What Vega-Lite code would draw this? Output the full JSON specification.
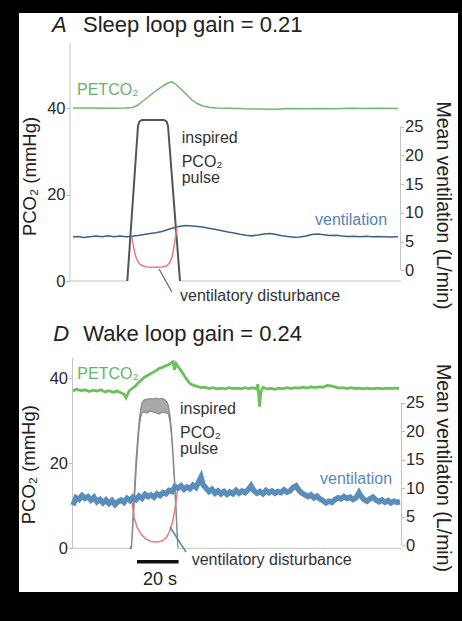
{
  "$schema": "https://vega.github.io/schema/vega-lite/v6.json",
  "background": "black",
  "padding": {"left": 19, "top": 13, "right": 4, "bottom": 29},
  "spacing": 0,
  "config": {"font": "Liberation Sans", "view": {"fill": "white", "stroke": null}},
  "datasets": {
    "aPet": [{"t":1.44,"v":40.0},{"t":9.62,"v":40.0},{"t":19.23,"v":39.93},{"t":26.44,"v":40.0},{"t":30.29,"v":40.12},{"t":32.69,"v":40.69},{"t":35.1,"v":41.62},{"t":38.46,"v":42.89},{"t":41.83,"v":44.16},{"t":44.71,"v":45.09},{"t":47.12,"v":45.78},{"t":48.89,"v":46.08},{"t":50.48,"v":45.66},{"t":53.85,"v":44.16},{"t":56.25,"v":43.01},{"t":58.65,"v":41.85},{"t":61.06,"v":41.04},{"t":63.94,"v":40.46},{"t":67.31,"v":40.12},{"t":70.67,"v":40.0},{"t":76.92,"v":39.93},{"t":84.13,"v":39.81},{"t":91.35,"v":39.77},{"t":98.56,"v":39.72},{"t":105.77,"v":39.88},{"t":112.98,"v":39.81},{"t":120.19,"v":39.88},{"t":127.4,"v":39.84},{"t":134.62,"v":39.93},{"t":141.83,"v":39.86},{"t":149.04,"v":39.93},{"t":157.69,"v":39.88}],
    "aPulse": [{"t":27.55,"v":0},{"t":32.69,"v":35.84},{"t":33.41,"v":36.88},{"t":34.62,"v":37.23},{"t":45.19,"v":37.23},{"t":46.39,"v":36.88},{"t":47.12,"v":35.84},{"t":52.88,"v":0}],
    "aBase": [{"t":0,"t2":27.55,"v":0},{"t":52.88,"t2":158.9,"v":0}],
    "aAxisL": [{"t":0,"v":0,"v2":55}],
    "aAxisR": [{"t":158.9,"v":0,"v2":25}],
    "aVent": [{"t":1.44,"v":5.82},{"t":3.85,"v":5.9},{"t":6.73,"v":5.73},{"t":9.62,"v":5.85},{"t":12.5,"v":5.99},{"t":15.38,"v":5.87},{"t":18.27,"v":6.02},{"t":21.15,"v":5.85},{"t":24.04,"v":5.99},{"t":26.92,"v":5.85},{"t":29.81,"v":5.94},{"t":32.69,"v":6.08},{"t":35.58,"v":6.25},{"t":38.46,"v":6.42},{"t":41.35,"v":6.55},{"t":44.23,"v":6.77},{"t":47.12,"v":7.12},{"t":50.0,"v":7.41},{"t":52.88,"v":7.67},{"t":55.77,"v":7.81},{"t":58.65,"v":7.73},{"t":61.54,"v":7.64},{"t":64.42,"v":7.5},{"t":67.31,"v":7.29},{"t":70.19,"v":7.12},{"t":73.08,"v":6.89},{"t":75.96,"v":6.68},{"t":78.85,"v":6.51},{"t":81.73,"v":6.28},{"t":84.62,"v":6.11},{"t":87.5,"v":6.02},{"t":90.38,"v":6.16},{"t":93.27,"v":6.34},{"t":96.15,"v":6.42},{"t":99.04,"v":6.25},{"t":101.92,"v":6.02},{"t":104.81,"v":5.9},{"t":107.69,"v":5.78},{"t":110.58,"v":5.82},{"t":113.46,"v":5.99},{"t":116.35,"v":6.25},{"t":119.23,"v":6.34},{"t":122.12,"v":6.2},{"t":125.0,"v":6.08},{"t":127.88,"v":6.13},{"t":130.77,"v":5.99},{"t":133.65,"v":5.9},{"t":136.54,"v":5.95},{"t":139.42,"v":5.85},{"t":142.31,"v":5.94},{"t":145.19,"v":5.85},{"t":148.08,"v":5.9},{"t":150.96,"v":5.85},{"t":153.85,"v":5.82},{"t":157.69,"v":5.85}],
    "aDist": [{"t":29.66,"v":5.9},{"t":30.43,"v":4.43},{"t":31.25,"v":2.86},{"t":32.21,"v":1.82},{"t":33.65,"v":1.04},{"t":35.24,"v":0.78},{"t":37.02,"v":0.61},{"t":39.42,"v":0.56},{"t":41.83,"v":0.56},{"t":44.23,"v":0.61},{"t":46.39,"v":0.78},{"t":47.84,"v":1.3},{"t":49.04,"v":2.34},{"t":50.0,"v":4.08},{"t":50.72,"v":5.82},{"t":51.35,"v":7.2},{"t":51.68,"v":7.64}],
    "aLeader": [{"t":42.8,"t2":49.0,"v":0.26,"v2":-3.73}],
    "aTitleLetter": [{"t":-8.65,"v":57.64,"label":"A"}],
    "aTitle": [{"t":6.25,"v":57.64,"label":"Sleep loop gain = 0.21"}],
    "aGreenLab": [{"t":3.37,"v":43.0,"label":"PETCO₂"}],
    "aDarkLab": [{"t":53.7,"v":31.91,"label":"inspired"},{"t":53.7,"v":26.36,"label":"PCO₂"},{"t":53.7,"v":22.59,"label":"pulse"},{"t":52.88,"v":-4.62,"label":"ventilatory disturbance"}],
    "aBlueLab": [{"t":117.8,"v":12.95,"label":"ventilation"}],
    "dPet": [{"t":0.24,"v":37.0},{"t":1.92,"v":37.4},{"t":4.09,"v":37.1},{"t":6.01,"v":37.3},{"t":7.93,"v":36.9},{"t":9.86,"v":37.2},{"t":11.78,"v":37.0},{"t":13.7,"v":37.3},{"t":15.63,"v":36.8},{"t":17.55,"v":37.1},{"t":19.47,"v":36.7},{"t":21.39,"v":37.0},{"t":23.32,"v":36.6},{"t":24.76,"v":36.3},{"t":25.72,"v":35.4},{"t":26.44,"v":36.2},{"t":27.16,"v":37.0},{"t":28.61,"v":37.6},{"t":30.05,"v":38.1},{"t":31.49,"v":38.9},{"t":32.93,"v":39.5},{"t":34.38,"v":40.2},{"t":35.82,"v":40.6},{"t":37.26,"v":41.0},{"t":38.7,"v":41.4},{"t":40.14,"v":41.8},{"t":41.59,"v":42.3},{"t":43.03,"v":42.5},{"t":44.47,"v":42.9},{"t":45.91,"v":43.1},{"t":47.36,"v":43.6},{"t":48.32,"v":43.9},{"t":49.04,"v":42.0},{"t":49.76,"v":43.5},{"t":50.72,"v":42.8},{"t":52.16,"v":41.8},{"t":53.61,"v":40.7},{"t":55.05,"v":39.6},{"t":56.49,"v":38.8},{"t":57.93,"v":38.4},{"t":59.86,"v":38.1},{"t":61.78,"v":37.8},{"t":63.7,"v":37.9},{"t":65.63,"v":37.6},{"t":67.55,"v":37.8},{"t":69.47,"v":37.5},{"t":71.39,"v":37.7},{"t":73.32,"v":37.5},{"t":75.24,"v":37.8},{"t":77.16,"v":37.6},{"t":79.09,"v":37.7},{"t":81.01,"v":37.5},{"t":82.93,"v":37.8},{"t":84.86,"v":37.6},{"t":86.78,"v":37.8},{"t":88.22,"v":37.5},{"t":89.18,"v":38.6},{"t":89.9,"v":33.3},{"t":90.63,"v":36.8},{"t":91.59,"v":37.9},{"t":93.51,"v":37.5},{"t":95.43,"v":37.6},{"t":97.36,"v":37.4},{"t":99.28,"v":37.7},{"t":101.2,"v":37.5},{"t":103.13,"v":37.8},{"t":105.05,"v":37.6},{"t":106.97,"v":37.8},{"t":108.89,"v":37.7},{"t":110.82,"v":37.9},{"t":112.74,"v":37.7},{"t":114.66,"v":38.0},{"t":116.59,"v":37.8},{"t":118.51,"v":38.0},{"t":120.43,"v":37.9},{"t":122.36,"v":38.3},{"t":124.28,"v":38.2},{"t":126.2,"v":38.0},{"t":128.13,"v":37.7},{"t":130.05,"v":37.8},{"t":131.97,"v":37.6},{"t":133.89,"v":37.8},{"t":135.82,"v":37.6},{"t":137.74,"v":37.7},{"t":139.66,"v":37.5},{"t":141.59,"v":37.7},{"t":143.51,"v":37.5},{"t":145.43,"v":37.6},{"t":147.36,"v":37.7},{"t":149.28,"v":37.5},{"t":151.2,"v":37.7},{"t":153.13,"v":37.6},{"t":155.05,"v":37.7},{"t":156.97,"v":37.6}],
    "dPulse": [{"t":27.64,"v":0,"v2":0},{"t":28.37,"v":0,"v2":0.78},{"t":29.09,"v":5.48,"v2":7.84},{"t":29.81,"v":11.36,"v2":14.42},{"t":30.53,"v":17.95,"v2":20.78},{"t":31.25,"v":23.13,"v2":25.48},{"t":31.97,"v":27.84,"v2":29.72},{"t":32.69,"v":30.66,"v2":32.54},{"t":33.41,"v":31.84,"v2":34.19},{"t":34.38,"v":32.07,"v2":34.89},{"t":35.82,"v":31.84,"v2":35.13},{"t":37.26,"v":32.31,"v2":35.25},{"t":38.7,"v":32.07,"v2":35.13},{"t":40.14,"v":31.84,"v2":35.36},{"t":41.59,"v":31.6,"v2":35.13},{"t":43.03,"v":32.07,"v2":35.25},{"t":44.47,"v":31.84,"v2":34.89},{"t":45.43,"v":31.84,"v2":34.42},{"t":46.15,"v":31.6,"v2":33.48},{"t":46.88,"v":29.72,"v2":31.13},{"t":47.6,"v":26.42,"v2":27.84},{"t":48.32,"v":21.25,"v2":22.66},{"t":49.04,"v":15.13,"v2":16.78},{"t":49.76,"v":8.54,"v2":10.19},{"t":50.24,"v":3.36,"v2":4.75},{"t":50.72,"v":0,"v2":0}],
    "dBase": [{"t":0,"t2":27.64,"v":0},{"t":50.72,"t2":158.17,"v":0}],
    "dAxisL": [{"t":0,"v":0,"v2":44.8}],
    "dAxisR": [{"t":158.17,"v":0,"v2":25}],
    "dScaleBar": [{"t":31.0,"t2":51.0,"v":-3.15}],
    "dVent": [{"t":0.24,"v":7.0},{"t":1.68,"v":8.3},{"t":3.13,"v":8.0},{"t":4.57,"v":8.7},{"t":6.01,"v":8.2},{"t":7.45,"v":8.5},{"t":8.89,"v":7.9},{"t":10.34,"v":8.4},{"t":11.78,"v":7.6},{"t":13.22,"v":8.0},{"t":14.66,"v":7.4},{"t":16.11,"v":7.9},{"t":17.55,"v":7.3},{"t":18.99,"v":7.8},{"t":20.43,"v":7.1},{"t":21.88,"v":7.6},{"t":23.32,"v":7.9},{"t":24.76,"v":7.5},{"t":26.2,"v":8.2},{"t":27.64,"v":7.8},{"t":29.09,"v":8.4},{"t":30.53,"v":8.0},{"t":31.97,"v":8.6},{"t":33.41,"v":8.2},{"t":34.86,"v":8.9},{"t":36.3,"v":8.5},{"t":37.74,"v":8.8},{"t":39.18,"v":8.4},{"t":40.63,"v":9.0},{"t":42.07,"v":8.7},{"t":43.51,"v":9.2},{"t":44.95,"v":9.0},{"t":46.39,"v":9.6},{"t":47.84,"v":9.4},{"t":49.28,"v":10.3},{"t":50.72,"v":10.0},{"t":52.16,"v":10.4},{"t":53.61,"v":9.8},{"t":55.05,"v":10.2},{"t":56.49,"v":9.9},{"t":57.93,"v":10.5},{"t":59.38,"v":10.1},{"t":60.82,"v":11.2},{"t":61.78,"v":11.9},{"t":62.74,"v":10.6},{"t":64.18,"v":10.0},{"t":65.63,"v":9.4},{"t":67.07,"v":9.8},{"t":68.51,"v":9.1},{"t":69.95,"v":9.5},{"t":71.39,"v":9.0},{"t":72.84,"v":9.4},{"t":74.28,"v":8.9},{"t":75.72,"v":9.3},{"t":77.16,"v":9.0},{"t":78.61,"v":9.6},{"t":80.05,"v":9.1},{"t":81.49,"v":9.5},{"t":82.93,"v":9.2},{"t":84.38,"v":9.7},{"t":85.82,"v":10.4},{"t":87.26,"v":9.5},{"t":88.7,"v":9.1},{"t":90.14,"v":9.4},{"t":91.59,"v":9.0},{"t":93.03,"v":9.6},{"t":94.47,"v":9.2},{"t":95.91,"v":9.5},{"t":97.36,"v":9.1},{"t":98.8,"v":9.4},{"t":100.24,"v":9.2},{"t":101.68,"v":9.7},{"t":103.13,"v":9.3},{"t":104.57,"v":9.5},{"t":106.01,"v":10.1},{"t":107.45,"v":10.4},{"t":108.89,"v":9.6},{"t":110.34,"v":9.1},{"t":111.78,"v":8.8},{"t":113.22,"v":8.5},{"t":114.66,"v":8.8},{"t":116.11,"v":8.3},{"t":117.55,"v":8.6},{"t":118.99,"v":8.1},{"t":120.43,"v":7.8},{"t":121.88,"v":7.4},{"t":123.32,"v":7.7},{"t":124.76,"v":7.5},{"t":126.2,"v":8.0},{"t":127.64,"v":8.3},{"t":129.09,"v":8.1},{"t":130.53,"v":8.5},{"t":131.97,"v":8.2},{"t":133.41,"v":8.4},{"t":134.86,"v":8.0},{"t":136.3,"v":8.3},{"t":137.74,"v":9.2},{"t":138.7,"v":8.6},{"t":140.14,"v":8.0},{"t":141.59,"v":7.7},{"t":143.03,"v":8.1},{"t":144.47,"v":8.4},{"t":145.91,"v":7.9},{"t":147.36,"v":7.6},{"t":148.8,"v":7.9},{"t":150.24,"v":7.5},{"t":151.68,"v":7.8},{"t":153.13,"v":7.4},{"t":154.57,"v":7.7},{"t":156.01,"v":7.5},{"t":157.45,"v":7.6}],
    "dDist": [{"t":28.46,"v":7.9},{"t":29.57,"v":4.9},{"t":31.01,"v":3.16},{"t":32.93,"v":1.93},{"t":35.34,"v":1.05},{"t":37.74,"v":0.61},{"t":40.63,"v":0.53},{"t":43.03,"v":0.7},{"t":44.95,"v":1.23},{"t":46.39,"v":2.11},{"t":47.84,"v":3.69},{"t":49.04,"v":5.8},{"t":50.0,"v":8.26},{"t":50.48,"v":9.67}],
    "dLeader": [{"t":46.88,"t2":54.57,"v":3.16,"v2":-1.23}],
    "dTitleLetter": [{"t":-9.23,"v":48.78,"label":"D"}],
    "dTitle": [{"t":5.19,"v":48.78,"label":"Wake loop gain = 0.24"}],
    "dGreenLab": [{"t":2.31,"v":39.8,"label":"PETCO₂"}],
    "dDarkLab": [{"t":51.68,"v":31.6,"label":"inspired"},{"t":51.68,"v":26.07,"label":"PCO₂"},{"t":51.68,"v":22.19,"label":"pulse"},{"t":57.3,"v":-3.93,"label":"ventilatory disturbance"}],
    "dBlueLab": [{"t":119.0,"v":15.13,"label":"ventilation"}],
    "dScaleLab": [{"t":42.07,"v":-8.64,"label":"20 s"}]
  },
  "vconcat": [
    {
      "width": 439,
      "height": 299,
      "encoding": {"x": {"field": "t", "type": "quantitative", "scale": {"domain": [-24.52, 186.54], "nice": false, "zero": false}, "axis": null}},
      "layer": [
        {
          "encoding": {"y": {"field": "v", "type": "quantitative", "scale": {"domain": [-7.168, 61.97], "nice": false, "zero": false},
            "axis": {"orient": "left", "offset": -51, "values": [0, 20, 40], "domain": false, "grid": false, "tickSize": 4, "tickColor": "#bbbbbb", "labelFontSize": 16.5, "labelColor": "#2a2a2a", "labelPadding": 1,
              "title": "PCO₂ (mmHg)", "titleFontSize": 18.5, "titleFontWeight": "normal", "titleColor": "#222222", "titleAngle": -90, "titleAlign": "center", "titleBaseline": "alphabetic", "titleX": -35, "titleY": 163}}},
          "layer": [
            {"data": {"name": "aBase"}, "mark": {"type": "rule", "color": "#c4c4c4", "strokeWidth": 1}, "encoding": {"x2": {"field": "t2"}}},
            {"data": {"name": "aAxisL"}, "mark": {"type": "rule", "color": "#c4c4c4", "strokeWidth": 1}, "encoding": {"y2": {"field": "v2"}}},
            {"data": {"name": "aPulse"}, "mark": {"type": "line", "color": "#555555", "strokeWidth": 2}},
            {"data": {"name": "aPet"}, "mark": {"type": "line", "color": "#72b672", "strokeWidth": 1.5}},
            {"data": {"name": "aTitleLetter"}, "mark": {"type": "text", "align": "left", "baseline": "alphabetic", "fontSize": 22, "fontStyle": "italic", "color": "#222222"}, "encoding": {"text": {"field": "label", "type": "nominal"}}},
            {"data": {"name": "aTitle"}, "mark": {"type": "text", "align": "left", "baseline": "alphabetic", "fontSize": 22, "color": "#222222"}, "encoding": {"text": {"field": "label", "type": "nominal"}}},
            {"data": {"name": "aGreenLab"}, "mark": {"type": "text", "align": "left", "baseline": "alphabetic", "fontSize": 16, "color": "#6aae6a"}, "encoding": {"text": {"field": "label", "type": "nominal"}}},
            {"data": {"name": "aDarkLab"}, "mark": {"type": "text", "align": "left", "baseline": "alphabetic", "fontSize": 16, "color": "#333333"}, "encoding": {"text": {"field": "label", "type": "nominal"}}},
            {"data": {"name": "aBlueLab"}, "mark": {"type": "text", "align": "left", "baseline": "alphabetic", "fontSize": 16, "color": "#5a7fb5"}, "encoding": {"text": {"field": "label", "type": "nominal"}}}
          ]
        },
        {
          "encoding": {"y": {"field": "v", "type": "quantitative", "scale": {"domain": [-7.205, 44.705], "nice": false, "zero": false},
            "axis": {"orient": "right", "offset": -57.5, "values": [0, 5, 10, 15, 20, 25], "domain": false, "grid": false, "tickSize": 3, "tickColor": "#bbbbbb", "labelFontSize": 16.5, "labelColor": "#2a2a2a", "labelPadding": 1,
              "title": "Mean ventilation (L/min)", "titleFontSize": 19.5, "titleFontWeight": "normal", "titleColor": "#222222", "titleAngle": 90, "titleAlign": "center", "titleBaseline": "alphabetic", "titleX": 36, "titleY": 192}}},
          "layer": [
            {"data": {"name": "aAxisR"}, "mark": {"type": "rule", "color": "#c4c4c4", "strokeWidth": 1}, "encoding": {"y2": {"field": "v2"}}},
            {"data": {"name": "aVent"}, "mark": {"type": "line", "color": "#3f5f80", "strokeWidth": 1.6}},
            {"data": {"name": "aDist"}, "mark": {"type": "line", "color": "#e57b7b", "strokeWidth": 1.5}},
            {"data": {"name": "aLeader"}, "mark": {"type": "rule", "color": "#4a6a8a", "strokeWidth": 1.2}, "encoding": {"x2": {"field": "t2"}, "y2": {"field": "v2"}}}
          ]
        }
      ],
      "resolve": {"scale": {"y": "independent"}}
    },
    {
      "width": 439,
      "height": 280,
      "encoding": {"x": {"field": "t", "type": "quantitative", "scale": {"domain": [-25.72, 185.34], "nice": false, "zero": false}, "axis": null}},
      "layer": [
        {
          "encoding": {"y": {"field": "v", "type": "quantitative", "scale": {"domain": [-10.28, 55.6], "nice": false, "zero": false},
            "axis": {"orient": "left", "offset": -53.5, "values": [0, 20, 40], "domain": false, "grid": false, "tickSize": 4, "tickColor": "#bbbbbb", "labelFontSize": 16.5, "labelColor": "#2a2a2a", "labelPadding": 1,
              "title": "PCO₂ (mmHg)", "titleFontSize": 18.5, "titleFontWeight": "normal", "titleColor": "#222222", "titleAngle": -90, "titleAlign": "center", "titleBaseline": "alphabetic", "titleX": -38, "titleY": 152.2}}},
          "layer": [
            {"data": {"name": "dBase"}, "mark": {"type": "rule", "color": "#c4c4c4", "strokeWidth": 1}, "encoding": {"x2": {"field": "t2"}}},
            {"data": {"name": "dAxisL"}, "mark": {"type": "rule", "color": "#c4c4c4", "strokeWidth": 1}, "encoding": {"y2": {"field": "v2"}}},
            {"data": {"name": "dPulse"}, "mark": {"type": "area", "fill": "#a9a9a9", "stroke": "#8a8a8a", "strokeWidth": 1.2}, "encoding": {"y2": {"field": "v2"}}},
            {"data": {"name": "dPet"}, "mark": {"type": "line", "color": "#6cbf5a", "strokeWidth": 2.8}},
            {"data": {"name": "dScaleBar"}, "mark": {"type": "rule", "color": "#111111", "strokeWidth": 3.5}, "encoding": {"x2": {"field": "t2"}}},
            {"data": {"name": "dTitleLetter"}, "mark": {"type": "text", "align": "left", "baseline": "alphabetic", "fontSize": 22, "fontStyle": "italic", "color": "#222222"}, "encoding": {"text": {"field": "label", "type": "nominal"}}},
            {"data": {"name": "dTitle"}, "mark": {"type": "text", "align": "left", "baseline": "alphabetic", "fontSize": 22, "color": "#222222"}, "encoding": {"text": {"field": "label", "type": "nominal"}}},
            {"data": {"name": "dGreenLab"}, "mark": {"type": "text", "align": "left", "baseline": "alphabetic", "fontSize": 16, "color": "#66b566"}, "encoding": {"text": {"field": "label", "type": "nominal"}}},
            {"data": {"name": "dDarkLab"}, "mark": {"type": "text", "align": "left", "baseline": "alphabetic", "fontSize": 16, "color": "#333333"}, "encoding": {"text": {"field": "label", "type": "nominal"}}},
            {"data": {"name": "dBlueLab"}, "mark": {"type": "text", "align": "left", "baseline": "alphabetic", "fontSize": 16, "color": "#5b87b8"}, "encoding": {"text": {"field": "label", "type": "nominal"}}},
            {"data": {"name": "dScaleLab"}, "mark": {"type": "text", "align": "center", "baseline": "alphabetic", "fontSize": 18, "color": "#222222"}, "encoding": {"text": {"field": "label", "type": "nominal"}}}
          ]
        },
        {
          "encoding": {"y": {"field": "v", "type": "quantitative", "scale": {"domain": [-8.26, 40.95], "nice": false, "zero": false},
            "axis": {"orient": "right", "offset": -56.5, "values": [0, 5, 10, 15, 20, 25], "domain": false, "grid": false, "tickSize": 3, "tickColor": "#bbbbbb", "labelFontSize": 16.5, "labelColor": "#2a2a2a", "labelPadding": 1,
              "title": "Mean ventilation (L/min)", "titleFontSize": 19.5, "titleFontWeight": "normal", "titleColor": "#222222", "titleAngle": 90, "titleAlign": "center", "titleBaseline": "alphabetic", "titleX": 34.5, "titleY": 155.5}}},
          "layer": [
            {"data": {"name": "dAxisR"}, "mark": {"type": "rule", "color": "#c4c4c4", "strokeWidth": 1}, "encoding": {"y2": {"field": "v2"}}},
            {"data": {"name": "dDist"}, "mark": {"type": "line", "color": "#e57b7b", "strokeWidth": 1.5}},
            {"data": {"name": "dVent"}, "mark": {"type": "line", "color": "#5a8dba", "strokeWidth": 5.5}},
            {"data": {"name": "dLeader"}, "mark": {"type": "rule", "color": "#5188b8", "strokeWidth": 1.5}, "encoding": {"x2": {"field": "t2"}, "y2": {"field": "v2"}}}
          ]
        }
      ],
      "resolve": {"scale": {"y": "independent"}}
    }
  ]
}
